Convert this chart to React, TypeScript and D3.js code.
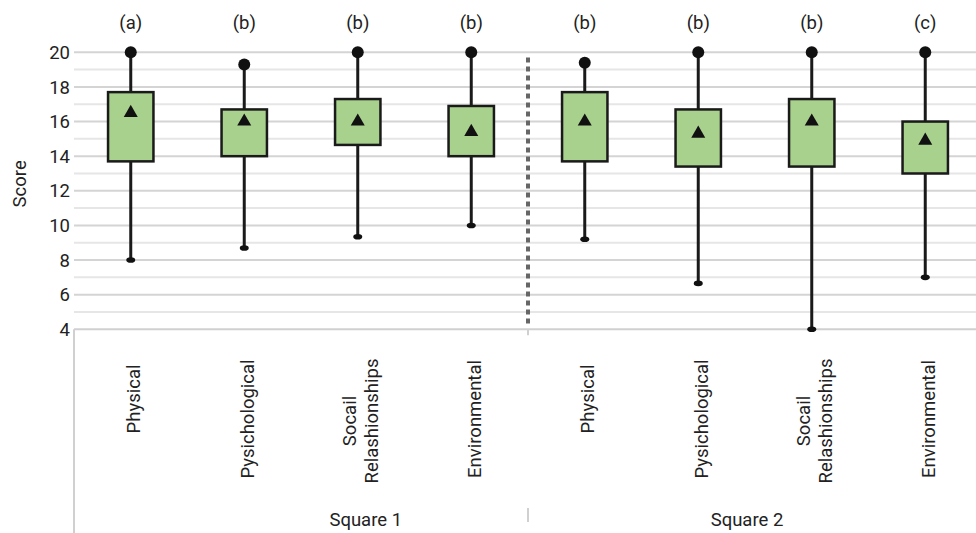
import * as d3 from "d3";

const categories = [
  "Physical",
  "Pysichological",
  "Socail Relashionships",
  "Environmental",
  "Physical",
  "Pysichological",
  "Socail Relashionships",
  "Environmental",
];
const groups = ["Square 1", "Square 2"];
const letters = ["(a)", "(b)", "(b)", "(b)", "(b)", "(b)", "(b)", "(c)"];
const maxValues = [20, 19.3, 20, 20, 19.4, 20, 20, 20];
const q3Values = [17.7, 16.7, 17.3, 16.9, 17.7, 16.7, 17.3, 16.0];
const meanValues = [16.5, 16.0, 16.0, 15.4, 16.0, 15.3, 16.0, 14.9];
const q1Values = [13.7, 14.0, 14.65, 14.0, 13.7, 13.4, 13.4, 13.0];
const minValues = [8.0, 8.7, 9.35, 10.0, 9.2, 6.65, 4.0, 7.0];
const yTicks = [4, 6, 8, 10, 12, 14, 16, 18, 20];

const width = 976;
const height = 533;
const left = 74;
const right = 976;
const font = "Roboto, 'Noto Sans', sans-serif";
const fs = 18.5;

export default function App() {
  const ids = categories.map((_, i) => String(i));
  const x = d3
    .scaleBand()
    .domain(ids)
    .range([left, 982])
    .paddingInner(0.6)
    .paddingOuter(0.3);
  const y = d3.scaleLinear().domain([4, 20]).range([329.3, 52.3]);
  const bw = x.bandwidth();
  const cx = (i: number) => (x(String(i)) as number) + bw / 2;
  const gridVals = d3.range(5, 21, 1);
  const sepX = (cx(3) + cx(4)) / 2;
  const tri = d3.symbol(d3.symbolTriangle, 85)() as string;

  const groupX = [cx(2) + 8, (cx(5) + cx(6)) / 2 - 8];

  return (
    <svg
      width={width}
      height={height}
      style={{ position: "absolute", left: 0, top: 0, background: "#fff" }}
      fontFamily={font}
    >
      {gridVals.map((v) => (
        <line
          key={v}
          x1={left}
          x2={right}
          y1={y(v)}
          y2={y(v)}
          stroke={v % 2 === 0 ? "#d4d4d4" : "#e6e6e6"}
          strokeWidth={2}
        />
      ))}
      {/* axis baseline and category frame */}
      <line x1={left} x2={right} y1={y(4)} y2={y(4)} stroke="#d0d0d0" strokeWidth={2} />
      <line x1={left} x2={left} y1={y(4)} y2={height} stroke="#d0d0d0" strokeWidth={2} />
      <line x1={sepX} x2={sepX} y1={y(4)} y2={y(4) + 6} stroke="#d0d0d0" strokeWidth={2} />
      <line x1={sepX} x2={sepX} y1={508} y2={522} stroke="#d0d0d0" strokeWidth={2} />
      <line
        x1={sepX}
        x2={sepX}
        y1={y(19.7)}
        y2={y(4.2)}
        stroke="#666"
        strokeWidth={4}
        strokeDasharray="5,4"
      />

      {yTicks.map((t) => (
        <text
          key={t}
          x={left - 4}
          y={y(t)}
          dy="0.36em"
          textAnchor="end"
          fontSize={fs}
          fill="#222"
        >
          {t}
        </text>
      ))}
      <text
        transform={`translate(26, ${y(12.4)}) rotate(-90)`}
        textAnchor="middle"
        fontSize={fs}
        fill="#222"
      >
        Score
      </text>

      {categories.map((c, i) => {
        const xc = cx(i);
        const x0 = x(String(i)) as number;
        return (
          <g key={i}>
            <line
              x1={xc}
              x2={xc}
              y1={y(maxValues[i])}
              y2={y(minValues[i])}
              stroke="#1a1a1a"
              strokeWidth={3}
            />
            <rect
              x={x0}
              width={bw}
              y={y(q3Values[i])}
              height={y(q1Values[i]) - y(q3Values[i])}
              fill="#a9d18e"
              stroke="#1a1a1a"
              strokeWidth={2.5}
            />
            <circle cx={xc} cy={y(maxValues[i])} r={6} fill="#111" />
            <ellipse cx={xc} cy={y(minValues[i])} rx={4.5} ry={2.8} fill="#111" />
            <path d={tri} transform={`translate(${xc}, ${y(meanValues[i])})`} fill="#111" />
            <text x={xc} y={29} textAnchor="middle" fontSize={fs} fill="#222">
              {letters[i]}
            </text>
            {c.includes(" ") ? (
              <text
                transform={`translate(${xc + 3}, 421) rotate(-90)`}
                textAnchor="middle"
                fontSize={fs}
                fill="#222"
              >
                <tspan x={0} dy={-5}>
                  {c.split(" ")[0]}
                </tspan>
                <tspan x={0} dy={22}>
                  {c.split(" ")[1]}
                </tspan>
              </text>
            ) : (
              <text
                transform={`translate(${xc + 3}, ${c === "Physical" ? 399 : 419}) rotate(-90)`}
                textAnchor="middle"
                dy="0.35em"
                fontSize={fs}
                fill="#222"
              >
                {c}
              </text>
            )}
          </g>
        );
      })}

      {groups.map((g, i) => (
        <text key={g} x={groupX[i]} y={526} textAnchor="middle" fontSize={fs} fill="#222">
          {g}
        </text>
      ))}
    </svg>
  );
}
